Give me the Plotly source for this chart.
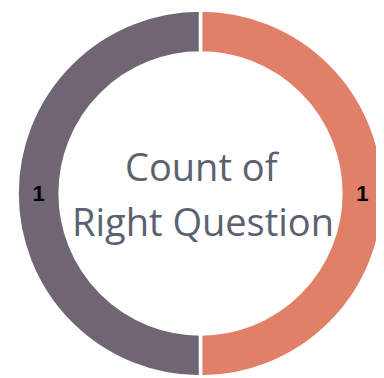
import plotly.graph_objects as go

# Data
labels = ["Right", "Wrong"]
values = [1, 1]
colors = ["#E08068", "#6F6573"]
center_lines = ["Count of", "Right Question"]

fig = go.Figure(
    data=[
        go.Pie(
            labels=labels,
            values=values,
            hole=0.765,
            sort=False,
            direction="clockwise",
            rotation=0,
            marker=dict(colors=colors, line=dict(color="white", width=3.5)),
            texttemplate="<b>%{value}</b>",
            textposition="inside",
            insidetextorientation="horizontal",
            textfont=dict(family="Liberation Sans", size=22, color="black"),
            hoverinfo="label+value",
        )
    ]
)

# page body has an 8px margin, so the figure is a bit smaller than the window
fig.update_layout(
    width=376,
    height=370,
    margin=dict(l=9, r=0, t=1, b=0),
    showlegend=False,
    paper_bgcolor="white",
    plot_bgcolor="white",
    uniformtext=dict(minsize=22, mode="show"),
    annotations=[
        dict(
            text=center_lines[0],
            x=0.5, y=0.5, yshift=28, xshift=2,
            xref="paper", yref="paper",
            showarrow=False,
            font=dict(family="Open Sans", size=38, color="#5A6270"),
        ),
        dict(
            text=center_lines[1],
            x=0.5, y=0.5, yshift=-27, xshift=2,
            xref="paper", yref="paper",
            showarrow=False,
            font=dict(family="Open Sans", size=38, color="#5A6270"),
        ),
    ],
)

fig.write_html("out.html")
